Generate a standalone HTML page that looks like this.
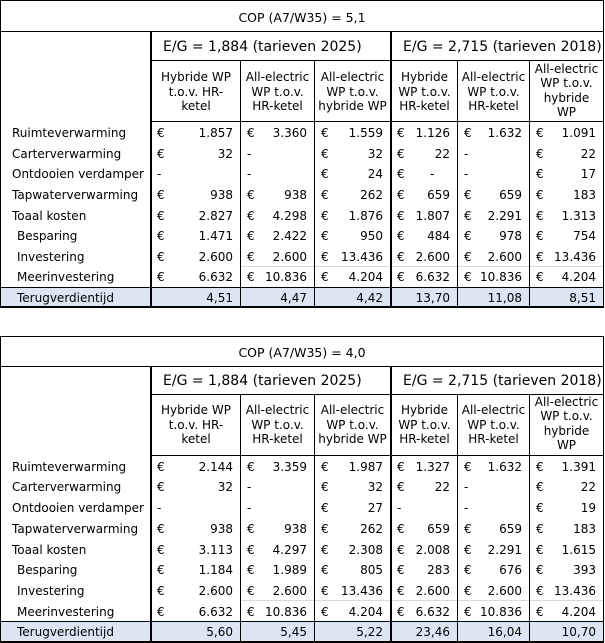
<!DOCTYPE html>
<html><head><meta charset="utf-8">
<style>
html,body{margin:0;padding:0;background:#fff;}
body{width:605px;height:643px;position:relative;overflow:hidden;font-family:"DejaVu Sans","Liberation Sans",Verdana,sans-serif;font-size:12px;color:#000;}
.ln{position:absolute;background:#000;}
.gl{position:absolute;background:#d9d9d9;}
.bg{position:absolute;background:#dce6f2;}
.t{position:absolute;white-space:nowrap;}
.r{position:absolute;left:0;width:604px;white-space:nowrap;}
.r span{position:absolute;top:1px;}
.lb{left:12px;}
.in{left:17px;}
.e1{left:157px}.e2{left:247px}.e3{left:321px}.e4{left:397px}.e5{left:464px}.e6{left:536px}
.n1{right:371px}.n2{right:297px}.n3{right:221px}.n4{right:154px}.n5{right:82px}.n6{right:8px}
.h{position:absolute;text-align:center;line-height:14.5px;white-space:nowrap;}
.eg{font-size:14px;}
.cop{font-size:12.5px;width:604px;left:0;text-align:center;}
</style></head><body>

<!-- ================= TABLE 1 ================= -->
<div class="bg" style="left:1px;top:288px;width:602px;height:18px;"></div>
<div class="ln" style="left:0;top:0;width:604px;height:1px;"></div>
<div class="ln" style="left:0;top:31px;width:604px;height:1px;"></div>
<div class="ln" style="left:150px;top:60px;width:454px;height:1px;"></div>
<div class="ln" style="left:150px;top:121px;width:454px;height:1px;"></div>
<div class="gl" style="left:241px;top:266px;width:362px;height:1px;"></div>
<div class="ln" style="left:0;top:287px;width:604px;height:1px;"></div>
<div class="ln" style="left:0;top:306px;width:604px;height:2px;"></div>
<div class="ln" style="left:0;top:0;width:1px;height:308px;"></div>
<div class="ln" style="left:603px;top:0;width:1px;height:308px;"></div>
<div class="ln" style="left:150px;top:31px;width:2px;height:277px;"></div>
<div class="ln" style="left:390px;top:31px;width:2px;height:277px;"></div>
<div class="ln" style="left:240px;top:60px;width:1px;height:248px;"></div>
<div class="ln" style="left:314px;top:60px;width:1px;height:248px;"></div>
<div class="ln" style="left:457px;top:60px;width:1px;height:248px;"></div>
<div class="ln" style="left:529px;top:60px;width:1px;height:248px;"></div>

<div class="t cop" style="top:8.5px;line-height:17px;">COP (A7/W35) = 5,1</div>
<div class="t eg" style="left:163px;top:39px;line-height:17px;">E/G = 1,884 (tarieven 2025)</div>
<div class="t eg" style="left:403px;top:39px;line-height:17px;">E/G = 2,715 (tarieven 2018)</div>

<div class="h" style="left:152px;width:88px;top:70px;">Hybride WP<br>t.o.v. HR-<br>ketel</div>
<div class="h" style="left:241px;width:73px;top:70px;">All-electric<br>WP t.o.v.<br>HR-ketel</div>
<div class="h" style="left:315px;width:75px;top:70px;">All-electric<br>WP t.o.v.<br>hybride WP</div>
<div class="h" style="left:392px;width:65px;top:70px;">Hybride<br>WP t.o.v.<br>HR-ketel</div>
<div class="h" style="left:458px;width:71px;top:70px;">All-electric<br>WP t.o.v.<br>HR-ketel</div>
<div class="h" style="left:530px;width:73px;top:61.5px;">All-electric<br>WP t.o.v.<br>hybride<br>WP</div>

<div class="r" style="top:122px;height:21px;line-height:21px;"><span class="lb">Ruimteverwarming</span><span class="e1">€</span><span class="n1">1.857</span><span class="e2">€</span><span class="n2">3.360</span><span class="e3">€</span><span class="n3">1.559</span><span class="e4">€</span><span class="n4">1.126</span><span class="e5">€</span><span class="n5">1.632</span><span class="e6">€</span><span class="n6">1.091</span></div>
<div class="r" style="top:142.6px;height:21px;line-height:21px;"><span class="lb">Carterverwarming</span><span class="e1">€</span><span class="n1">32</span><span class="e2">-</span><span class="e3">€</span><span class="n3">32</span><span class="e4">€</span><span class="n4">22</span><span class="e5">-</span><span class="e6">€</span><span class="n6">22</span></div>
<div class="r" style="top:163.3px;height:21px;line-height:21px;"><span class="lb">Ontdooien verdamper</span><span class="e1">-</span><span class="e2">-</span><span class="e3">€</span><span class="n3">24</span><span class="e4">€</span><span style="left:430px;">-</span><span class="e5">-</span><span class="e6">€</span><span class="n6">17</span></div>
<div class="r" style="top:183.9px;height:21px;line-height:21px;"><span class="lb">Tapwaterverwarming</span><span class="e1">€</span><span class="n1">938</span><span class="e2">€</span><span class="n2">938</span><span class="e3">€</span><span class="n3">262</span><span class="e4">€</span><span class="n4">659</span><span class="e5">€</span><span class="n5">659</span><span class="e6">€</span><span class="n6">183</span></div>
<div class="r" style="top:204.5px;height:21px;line-height:21px;"><span class="lb">Toaal kosten</span><span class="e1">€</span><span class="n1">2.827</span><span class="e2">€</span><span class="n2">4.298</span><span class="e3">€</span><span class="n3">1.876</span><span class="e4">€</span><span class="n4">1.807</span><span class="e5">€</span><span class="n5">2.291</span><span class="e6">€</span><span class="n6">1.313</span></div>
<div class="r" style="top:225.1px;height:21px;line-height:21px;"><span class="in">Besparing</span><span class="e1">€</span><span class="n1">1.471</span><span class="e2">€</span><span class="n2">2.422</span><span class="e3">€</span><span class="n3">950</span><span class="e4">€</span><span class="n4">484</span><span class="e5">€</span><span class="n5">978</span><span class="e6">€</span><span class="n6">754</span></div>
<div class="r" style="top:245.8px;height:21px;line-height:21px;"><span class="in">Investering</span><span class="e1">€</span><span class="n1">2.600</span><span class="e2">€</span><span class="n2">2.600</span><span class="e3">€</span><span class="n3">13.436</span><span class="e4">€</span><span class="n4">2.600</span><span class="e5">€</span><span class="n5">2.600</span><span class="e6">€</span><span class="n6">13.436</span></div>
<div class="r" style="top:266.4px;height:21px;line-height:21px;"><span class="in">Meerinvestering</span><span class="e1">€</span><span class="n1">6.632</span><span class="e2">€</span><span class="n2">10.836</span><span class="e3">€</span><span class="n3">4.204</span><span class="e4">€</span><span class="n4">6.632</span><span class="e5">€</span><span class="n5">10.836</span><span class="e6">€</span><span class="n6">4.204</span></div>
<div class="r" style="top:287px;height:21px;line-height:21px;"><span class="in">Terugverdientijd</span><span class="n1">4,51</span><span class="n2">4,47</span><span class="n3">4,42</span><span class="n4">13,70</span><span class="n5">11,08</span><span class="n6">8,51</span></div>

<!-- ================= TABLE 2 ================= -->
<div class="bg" style="left:1px;top:622px;width:602px;height:19px;"></div>
<div class="ln" style="left:0;top:336px;width:604px;height:1px;"></div>
<div class="ln" style="left:0;top:366px;width:604px;height:1px;"></div>
<div class="ln" style="left:150px;top:394px;width:454px;height:1px;"></div>
<div class="ln" style="left:150px;top:455px;width:454px;height:1px;"></div>
<div class="gl" style="left:241px;top:600px;width:362px;height:1px;"></div>
<div class="ln" style="left:0;top:621px;width:604px;height:1px;"></div>
<div class="ln" style="left:0;top:641px;width:604px;height:2px;"></div>
<div class="ln" style="left:0;top:336px;width:1px;height:307px;"></div>
<div class="ln" style="left:603px;top:336px;width:1px;height:307px;"></div>
<div class="ln" style="left:150px;top:366px;width:2px;height:277px;"></div>
<div class="ln" style="left:390px;top:366px;width:2px;height:277px;"></div>
<div class="ln" style="left:240px;top:394px;width:1px;height:249px;"></div>
<div class="ln" style="left:314px;top:394px;width:1px;height:249px;"></div>
<div class="ln" style="left:457px;top:394px;width:1px;height:249px;"></div>
<div class="ln" style="left:529px;top:394px;width:1px;height:249px;"></div>

<div class="t cop" style="top:344px;line-height:17px;">COP (A7/W35) = 4,0</div>
<div class="t eg" style="left:163px;top:372.5px;line-height:17px;">E/G = 1,884 (tarieven 2025)</div>
<div class="t eg" style="left:403px;top:372.5px;line-height:17px;">E/G = 2,715 (tarieven 2018)</div>

<div class="h" style="left:152px;width:88px;top:403px;">Hybride WP<br>t.o.v. HR-<br>ketel</div>
<div class="h" style="left:241px;width:73px;top:403px;">All-electric<br>WP t.o.v.<br>HR-ketel</div>
<div class="h" style="left:315px;width:75px;top:403px;">All-electric<br>WP t.o.v.<br>hybride WP</div>
<div class="h" style="left:392px;width:65px;top:403px;">Hybride<br>WP t.o.v.<br>HR-ketel</div>
<div class="h" style="left:458px;width:71px;top:403px;">All-electric<br>WP t.o.v.<br>HR-ketel</div>
<div class="h" style="left:530px;width:73px;top:394.5px;">All-electric<br>WP t.o.v.<br>hybride<br>WP</div>

<div class="r" style="top:455.5px;height:21px;line-height:21px;"><span class="lb">Ruimteverwarming</span><span class="e1">€</span><span class="n1">2.144</span><span class="e2">€</span><span class="n2">3.359</span><span class="e3">€</span><span class="n3">1.987</span><span class="e4">€</span><span class="n4">1.327</span><span class="e5">€</span><span class="n5">1.632</span><span class="e6">€</span><span class="n6">1.391</span></div>
<div class="r" style="top:476.2px;height:21px;line-height:21px;"><span class="lb">Carterverwarming</span><span class="e1">€</span><span class="n1">32</span><span class="e2">-</span><span class="e3">€</span><span class="n3">32</span><span class="e4">€</span><span class="n4">22</span><span class="e5">-</span><span class="e6">€</span><span class="n6">22</span></div>
<div class="r" style="top:497px;height:21px;line-height:21px;"><span class="lb">Ontdooien verdamper</span><span class="e1">-</span><span class="e2">-</span><span class="e3">€</span><span class="n3">27</span><span class="e4">-</span><span class="e5">-</span><span class="e6">€</span><span class="n6">19</span></div>
<div class="r" style="top:517.7px;height:21px;line-height:21px;"><span class="lb">Tapwaterverwarming</span><span class="e1">€</span><span class="n1">938</span><span class="e2">€</span><span class="n2">938</span><span class="e3">€</span><span class="n3">262</span><span class="e4">€</span><span class="n4">659</span><span class="e5">€</span><span class="n5">659</span><span class="e6">€</span><span class="n6">183</span></div>
<div class="r" style="top:538.5px;height:21px;line-height:21px;"><span class="lb">Toaal kosten</span><span class="e1">€</span><span class="n1">3.113</span><span class="e2">€</span><span class="n2">4.297</span><span class="e3">€</span><span class="n3">2.308</span><span class="e4">€</span><span class="n4">2.008</span><span class="e5">€</span><span class="n5">2.291</span><span class="e6">€</span><span class="n6">1.615</span></div>
<div class="r" style="top:559.2px;height:21px;line-height:21px;"><span class="in">Besparing</span><span class="e1">€</span><span class="n1">1.184</span><span class="e2">€</span><span class="n2">1.989</span><span class="e3">€</span><span class="n3">805</span><span class="e4">€</span><span class="n4">283</span><span class="e5">€</span><span class="n5">676</span><span class="e6">€</span><span class="n6">393</span></div>
<div class="r" style="top:580px;height:21px;line-height:21px;"><span class="in">Investering</span><span class="e1">€</span><span class="n1">2.600</span><span class="e2">€</span><span class="n2">2.600</span><span class="e3">€</span><span class="n3">13.436</span><span class="e4">€</span><span class="n4">2.600</span><span class="e5">€</span><span class="n5">2.600</span><span class="e6">€</span><span class="n6">13.436</span></div>
<div class="r" style="top:600.7px;height:21px;line-height:21px;"><span class="in">Meerinvestering</span><span class="e1">€</span><span class="n1">6.632</span><span class="e2">€</span><span class="n2">10.836</span><span class="e3">€</span><span class="n3">4.204</span><span class="e4">€</span><span class="n4">6.632</span><span class="e5">€</span><span class="n5">10.836</span><span class="e6">€</span><span class="n6">4.204</span></div>
<div class="r" style="top:621px;height:21px;line-height:21px;"><span class="in">Terugverdientijd</span><span class="n1">5,60</span><span class="n2">5,45</span><span class="n3">5,22</span><span class="n4">23,46</span><span class="n5">16,04</span><span class="n6">10,70</span></div>

</body></html>
